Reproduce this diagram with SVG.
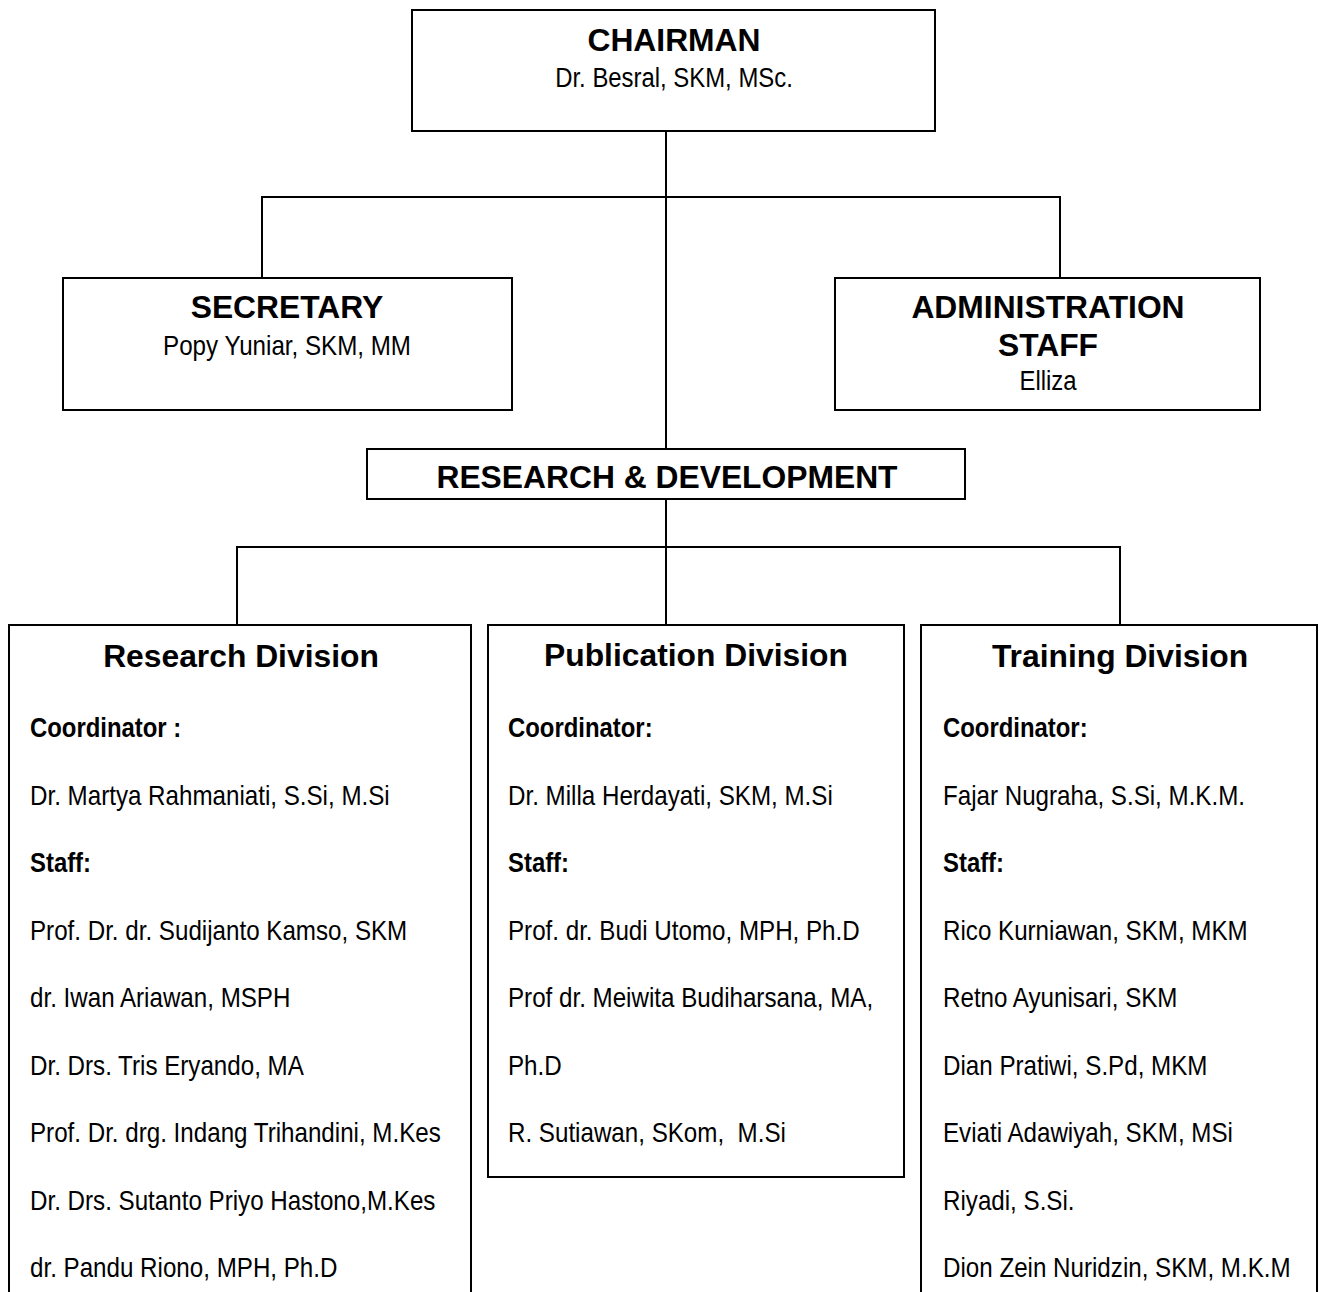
<svg xmlns="http://www.w3.org/2000/svg" width="1324" height="1292" viewBox="0 0 1324 1292">
<style>
.box{fill:#fff;stroke:#000;stroke-width:2}
.open{fill:none;stroke:#000;stroke-width:2}
.conn line{stroke:#000;stroke-width:2}
.t{font-family:"Liberation Sans",Arial,sans-serif;font-weight:bold;font-size:31.8px;fill:#000;text-anchor:middle}
.n{font-family:"Liberation Sans",Arial,sans-serif;font-size:27px;fill:#000}
.nb{font-family:"Liberation Sans",Arial,sans-serif;font-size:27px;font-weight:bold;fill:#000}
.c{text-anchor:middle}
</style>
<rect width="1324" height="1292" fill="#fff"/>
<g class="conn" id="connectors">
<line x1="666" y1="131" x2="666" y2="449"/>
<line x1="261" y1="197" x2="1061" y2="197"/>
<line x1="262" y1="197" x2="262" y2="278"/>
<line x1="1060" y1="197" x2="1060" y2="278"/>
<line x1="666" y1="499" x2="666" y2="625"/>
<line x1="236" y1="547" x2="1121" y2="547"/>
<line x1="237" y1="547" x2="237" y2="625"/>
<line x1="1120" y1="547" x2="1120" y2="625"/>
</g>
<g id="chairman">
<rect class="box" x="412" y="10" width="523" height="121"/>
<text class="t" x="674" y="51">CHAIRMAN</text>
<g transform="translate(674,87) scale(0.885,1)"><text class="n c" x="0" y="0">Dr. Besral, SKM, MSc.</text></g>
</g>
<g id="secretary">
<rect class="box" x="63" y="278" width="449" height="132"/>
<text class="t" x="287" y="318">SECRETARY</text>
<g transform="translate(287,355) scale(0.895,1)"><text class="n c" x="0" y="0">Popy Yuniar, SKM, MM</text></g>
</g>
<g id="admin">
<rect class="box" x="835" y="278" width="425" height="132"/>
<text class="t" x="1048" y="318">ADMINISTRATION</text>
<text class="t" x="1048" y="356">STAFF</text>
<g transform="translate(1048,390) scale(0.885,1)"><text class="n c" x="0" y="0">Elliza</text></g>
</g>
<g id="rnd">
<rect class="box" x="367" y="449" width="598" height="50"/>
<text class="t" x="667" y="488">RESEARCH &amp; DEVELOPMENT</text>
</g>
<g id="research">
<path class="open" d="M9,1293 V625 H471 V1293"/>
<text class="t" x="241" y="667">Research Division</text>
<g transform="translate(30,0) scale(0.885,1)">
<text class="nb" x="0" y="737">Coordinator :</text>
<text class="nb" x="0" y="872">Staff:</text>
</g>
<g transform="translate(30,0) scale(0.895,1)">
<text class="n" x="0" y="805">Dr. Martya Rahmaniati, S.Si, M.Si</text>
<text class="n" x="0" y="940">Prof. Dr. dr. Sudijanto Kamso, SKM</text>
<text class="n" x="0" y="1007">dr. Iwan Ariawan, MSPH</text>
<text class="n" x="0" y="1075">Dr. Drs. Tris Eryando, MA</text>
<text class="n" x="0" y="1142">Prof. Dr. drg. Indang Trihandini, M.Kes</text>
<text class="n" x="0" y="1210">Dr. Drs. Sutanto Priyo Hastono,M.Kes</text>
<text class="n" x="0" y="1277">dr. Pandu Riono, MPH, Ph.D</text>
</g>
</g>
<g id="publication">
<rect class="box" x="488" y="625" width="416" height="552"/>
<text class="t" x="696" y="666">Publication Division</text>
<g transform="translate(508,0) scale(0.885,1)">
<text class="nb" x="0" y="737">Coordinator:</text>
<text class="nb" x="0" y="872">Staff:</text>
</g>
<g transform="translate(508,0) scale(0.895,1)">
<text class="n" x="0" y="805">Dr. Milla Herdayati, SKM, M.Si</text>
<text class="n" x="0" y="940">Prof. dr. Budi Utomo, MPH, Ph.D</text>
<text class="n" x="0" y="1007">Prof dr. Meiwita Budiharsana, MA,</text>
<text class="n" x="0" y="1075">Ph.D</text>
<text class="n" x="0" y="1142" xml:space="preserve">R. Sutiawan, SKom,  M.Si</text>
</g>
</g>
<g id="training">
<path class="open" d="M921,1293 V625 H1317 V1293"/>
<text class="t" x="1120" y="667">Training Division</text>
<g transform="translate(943,0) scale(0.885,1)">
<text class="nb" x="0" y="737">Coordinator:</text>
<text class="nb" x="0" y="872">Staff:</text>
</g>
<g transform="translate(943,0) scale(0.895,1)">
<text class="n" x="0" y="805">Fajar Nugraha, S.Si, M.K.M.</text>
<text class="n" x="0" y="940">Rico Kurniawan, SKM, MKM</text>
<text class="n" x="0" y="1007">Retno Ayunisari, SKM</text>
<text class="n" x="0" y="1075">Dian Pratiwi, S.Pd, MKM</text>
<text class="n" x="0" y="1142">Eviati Adawiyah, SKM, MSi</text>
<text class="n" x="0" y="1210">Riyadi, S.Si.</text>
<text class="n" x="0" y="1277">Dion Zein Nuridzin, SKM, M.K.M</text>
</g>
</g>
</svg>
